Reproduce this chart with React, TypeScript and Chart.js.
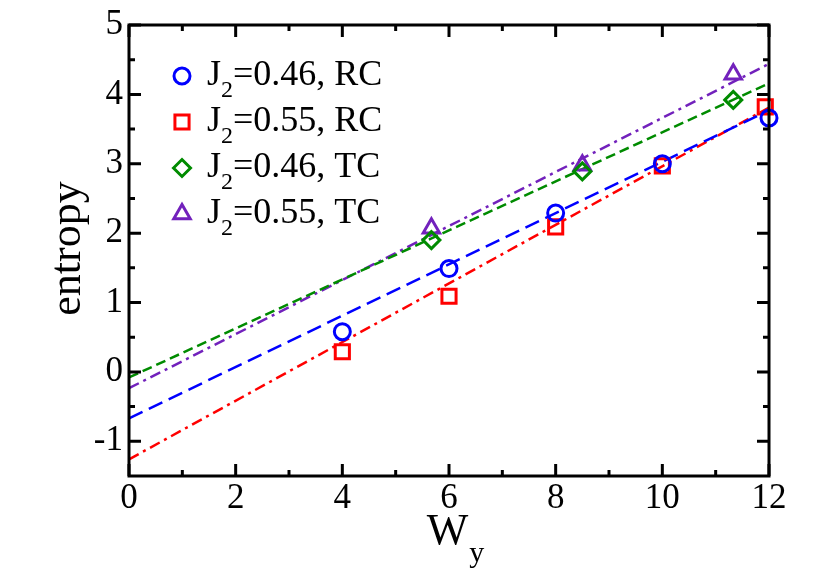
import React, { useEffect, useRef } from 'react';
import { Chart, registerables } from 'chart.js';
import { drawPoint } from 'chart.js/helpers';

Chart.register(...registerables);

// ---- data ----
const seriesNames = ['J2=0.46, RC', 'J2=0.55, RC', 'J2=0.46, TC', 'J2=0.55, TC'];
const rc046X = [4, 6, 8, 10, 12];
const rc046Y = [0.58, 1.49, 2.29, 3.0, 3.66];
const rc055X = [4, 6, 8, 10, 11.93];
const rc055Y = [0.29, 1.09, 2.09, 2.97, 3.82];
const tcX = [5.67, 8.5, 11.33];
const tc046Y = [1.9, 2.89, 3.92];
const tc055Y = [2.07, 2.98, 4.29];
const fitX = [0, 12];
const fitRc046 = [-0.67, 3.77];
const fitRc055 = [-1.26, 3.81];
const fitTc046 = [-0.08, 4.16];
const fitTc055 = [-0.235, 4.44];
const xTickValues = [0, 2, 4, 6, 8, 10, 12];
const xMinorValues = [1, 3, 5, 7, 9, 11];
const yTickValues = [-1, 0, 1, 2, 3, 4, 5];
const yMinorValues = [-0.5, 0.5, 1.5, 2.5, 3.5, 4.5];

const colors = ['#0000ff', '#ff0000', '#008b00', '#7221bc'];
const styles = ['circle', 'rect', 'rectRot', 'triangle'];
const radii = [8, 10, 8.5, 9.5];

const pts = (xs: number[], ys: number[]) => xs.map((x, i) => ({ x, y: ys[i] }));

const SERIF = '"Liberation Serif", "DejaVu Serif", serif';

const framePlugin = {
  id: 'frame',
  afterDatasetsDraw(chart: any) {
    const { ctx, chartArea, scales } = chart;
    const { left, right, top, bottom } = chartArea;
    const x = scales.x;
    const y = scales.y;
    ctx.save();
    ctx.strokeStyle = '#000';
    ctx.lineWidth = 3;
    ctx.lineCap = 'butt';
    ctx.setLineDash([]);
    ctx.beginPath();
    const major = 12;
    const minor = 6;
    xTickValues.forEach((v) => {
      const p = x.getPixelForValue(v);
      ctx.moveTo(p, bottom); ctx.lineTo(p, bottom - major);
      ctx.moveTo(p, top); ctx.lineTo(p, top + major);
    });
    xMinorValues.forEach((v) => {
      const p = x.getPixelForValue(v);
      ctx.moveTo(p, bottom); ctx.lineTo(p, bottom - minor);
      ctx.moveTo(p, top); ctx.lineTo(p, top + minor);
    });
    yTickValues.forEach((v) => {
      const p = y.getPixelForValue(v);
      ctx.moveTo(left, p); ctx.lineTo(left + major, p);
      ctx.moveTo(right, p); ctx.lineTo(right - major, p);
    });
    yMinorValues.forEach((v) => {
      const p = y.getPixelForValue(v);
      ctx.moveTo(left, p); ctx.lineTo(left + minor, p);
      ctx.moveTo(right, p); ctx.lineTo(right - minor, p);
    });
    ctx.stroke();
    ctx.lineJoin = 'miter';
    ctx.strokeRect(left, top, right - left, bottom - top);
    ctx.restore();
  },
  afterDraw(chart: any) {
    const { ctx, chartArea } = chart;
    const { left, top, bottom } = chartArea;
    ctx.save();
    ctx.fillStyle = '#000';
    // legend
    seriesNames.forEach((name, i) => {
      const my = top + 51 + 46 * i;
      const mx = left + 53;
      ctx.save();
      ctx.setLineDash([]);
      ctx.strokeStyle = colors[i];
      ctx.lineWidth = 3;
      ctx.fillStyle = 'rgba(0,0,0,0)';
      drawPoint(ctx, { pointStyle: styles[i], radius: radii[i], borderWidth: 3, rotation: 0 } as any, mx, my);
      ctx.restore();
      const tx = left + 78;
      ctx.textAlign = 'left';
      ctx.textBaseline = 'alphabetic';
      ctx.font = `36px ${SERIF}`;
      const a = name.slice(0, 1);
      const s = name.slice(1, 2);
      const r = name.slice(2);
      ctx.fillText(a, tx, my + 9);
      const wa = ctx.measureText(a).width;
      ctx.font = `24px ${SERIF}`;
      ctx.fillText(s, tx + wa, my + 21);
      const ws = ctx.measureText(s).width;
      ctx.font = `36px ${SERIF}`;
      ctx.fillText(r, tx + wa + ws, my + 9);
    });
    // y title
    ctx.save();
    ctx.translate(80, (top + bottom) / 2 - 2);
    ctx.rotate(-Math.PI / 2);
    ctx.font = `44px ${SERIF}`;
    ctx.textAlign = 'center';
    ctx.textBaseline = 'alphabetic';
    ctx.fillText('entropy', 0, 0);
    ctx.restore();
    // x title W_y
    ctx.font = `44px ${SERIF}`;
    ctx.textAlign = 'left';
    ctx.textBaseline = 'alphabetic';
    const wW = ctx.measureText('W').width;
    ctx.font = `30px ${SERIF}`;
    const wy = ctx.measureText('y').width;
    const cx = (chartArea.left + chartArea.right) / 2 + 6;
    const startX = cx - (wW + wy) / 2;
    ctx.font = `44px ${SERIF}`;
    ctx.fillText('W', startX, bottom + 68);
    ctx.font = `30px ${SERIF}`;
    ctx.fillText('y', startX + wW + 1, bottom + 86);
    ctx.restore();
  },
};

export default function App() {
  const ref = useRef<HTMLCanvasElement | null>(null);
  useEffect(() => {
    if (!ref.current) return;
    const markerSets = [
      pts(rc046X, rc046Y),
      pts(rc055X, rc055Y),
      pts(tcX, tc046Y),
      pts(tcX, tc055Y),
    ];
    const fits = [fitRc046, fitRc055, fitTc046, fitTc055];
    const dashes = [[15, 7], [11, 5, 3, 5], [10, 5], [11, 5, 3, 5]];
    const datasets: any[] = [];
    markerSets.forEach((d, i) => {
      datasets.push({
        type: 'scatter',
        label: seriesNames[i],
        data: d,
        showLine: false,
        pointStyle: styles[i],
        pointRadius: radii[i],
        pointBorderWidth: 3,
        pointBorderColor: colors[i],
        pointBackgroundColor: 'rgba(0,0,0,0)',
        borderColor: colors[i],
        clip: false,
      });
    });
    fits.forEach((f, i) => {
      datasets.push({
        type: 'line',
        label: seriesNames[i] + ' fit',
        data: pts(fitX, f),
        borderColor: colors[i],
        borderWidth: 2.5,
        borderDash: dashes[i],
        pointRadius: 0,
        fill: false,
        tension: 0,
        clip: false,
      });
    });

    const chart = new Chart(ref.current, {
      type: 'scatter',
      data: { datasets },
      options: {
        animation: false,
        responsive: true,
        maintainAspectRatio: false,
        layout: { padding: { left: 0, top: 25, right: 61, bottom: 0 } },
        plugins: { legend: { display: false }, tooltip: { enabled: false } },
        scales: {
          x: {
            type: 'linear',
            min: 0,
            max: 12,
            grid: { display: false, drawTicks: false },
            border: { display: false },
            ticks: { font: { family: SERIF, size: 35 }, color: '#000', padding: 2, maxRotation: 0 },
            afterBuildTicks: (s: any) => { s.ticks = xTickValues.map((v) => ({ value: v })); },
            afterFit: (s: any) => { s.height = 95; s.paddingLeft = 0; s.paddingRight = 0; },
          },
          y: {
            type: 'linear',
            min: -1.5,
            max: 5,
            grid: { display: false, drawTicks: false },
            border: { display: false },
            ticks: { font: { family: SERIF, size: 35 }, color: '#000', padding: 6 },
            afterBuildTicks: (s: any) => { s.ticks = yTickValues.map((v) => ({ value: v })); },
            afterFit: (s: any) => { s.width = 129; s.paddingTop = 0; s.paddingBottom = 0; },
          },
        },
      },
      plugins: [framePlugin],
    } as any);
    return () => chart.destroy();
  }, []);
  return (
    <div style={{ position: 'absolute', left: 0, top: 0, width: 830, height: 571, background: '#fff' }}>
      <canvas ref={ref} />
    </div>
  );
}
